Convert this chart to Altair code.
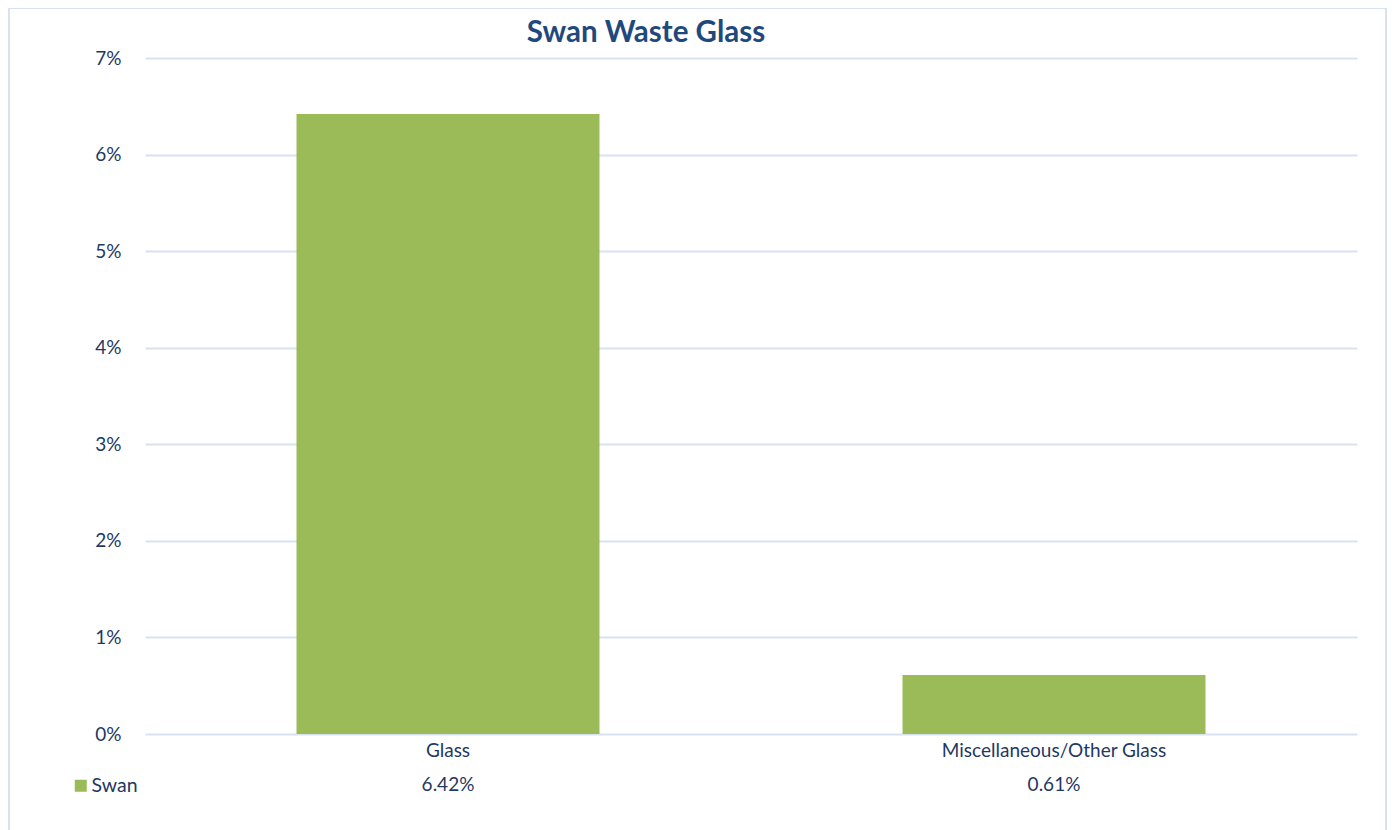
import altair as alt
import pandas as pd

categories = ["Glass", "Miscellaneous/Other Glass"]
values = [0.0642, 0.0061]
series = ["Swan", "Swan"]
value_labels = ["6.42%", "0.61%"]
title_text = "Swan Waste Glass"

df = pd.DataFrame({"category": categories, "value": values, "series": series, "label": value_labels})

W, H = 1212, 676
FONT = "Lato"
NAVY = "#1F3864"

x_enc = alt.X("category:N", sort=categories, title=None,
              scale=alt.Scale(paddingInner=0.5, paddingOuter=0.25),
              axis=alt.Axis(labelAngle=0, labelFontSize=19, labelColor=NAVY, labelFont=FONT,
                            labelPadding=7, labelLimit=0, ticks=False, domain=False, grid=False))

bars = alt.Chart(df).mark_bar(color="#9BBB59").encode(
    x=x_enc,
    y=alt.Y("value:Q", title=None,
            scale=alt.Scale(domain=[0, 0.07], nice=False),
            axis=alt.Axis(format=".0%", values=[0, 0.01, 0.02, 0.03, 0.04, 0.05, 0.06, 0.07],
                          labelFontSize=19, labelColor=NAVY, labelFont=FONT, labelPadding=24,
                          ticks=False, domain=False, grid=True, gridColor="#D9E2F1", gridWidth=2)),
    color=alt.Color("series:N", scale=alt.Scale(range=["#9BBB59"]), title=None,
                    legend=alt.Legend(orient="none", legendX=-74, legendY=718, padding=0,
                                      symbolType="square", symbolSize=144, symbolStrokeWidth=0,
                                      labelFontSize=19.5, labelColor=NAVY, labelFont=FONT,
                                      labelOffset=1)),
)

table = alt.Chart(df).mark_text(fontSize=19, color=NAVY, font=FONT, baseline="middle").encode(
    x=alt.X("category:N", sort=categories),
    y=alt.value(727),
    text="label:N",
)

frame = alt.Chart(df).mark_rect(fill=None, stroke="#D9E2F1", strokeWidth=2).encode(
    x=alt.value(-136), x2=alt.value(1241), y=alt.value(-50), y2=alt.value(800)
).transform_filter(alt.datum.category == "Glass")

title = alt.Chart(df).mark_text(fontSize=29.5, font=FONT, fontWeight="bold", color="#1F497D",
                                baseline="middle", align="center").encode(
    x=alt.value(501), y=alt.value(-25), text=alt.value(title_text)
).transform_filter(alt.datum.category == "Glass")

chart = alt.layer(frame, bars, table, title).properties(
    width=W, height=H,
    autosize=alt.AutoSizeParams(type="none"),
    padding={"left": 137, "top": 50, "right": 30, "bottom": 110},
).configure_view(stroke=None)

chart.save("out.html", embed_options={"renderer": "svg", "actions": False})
